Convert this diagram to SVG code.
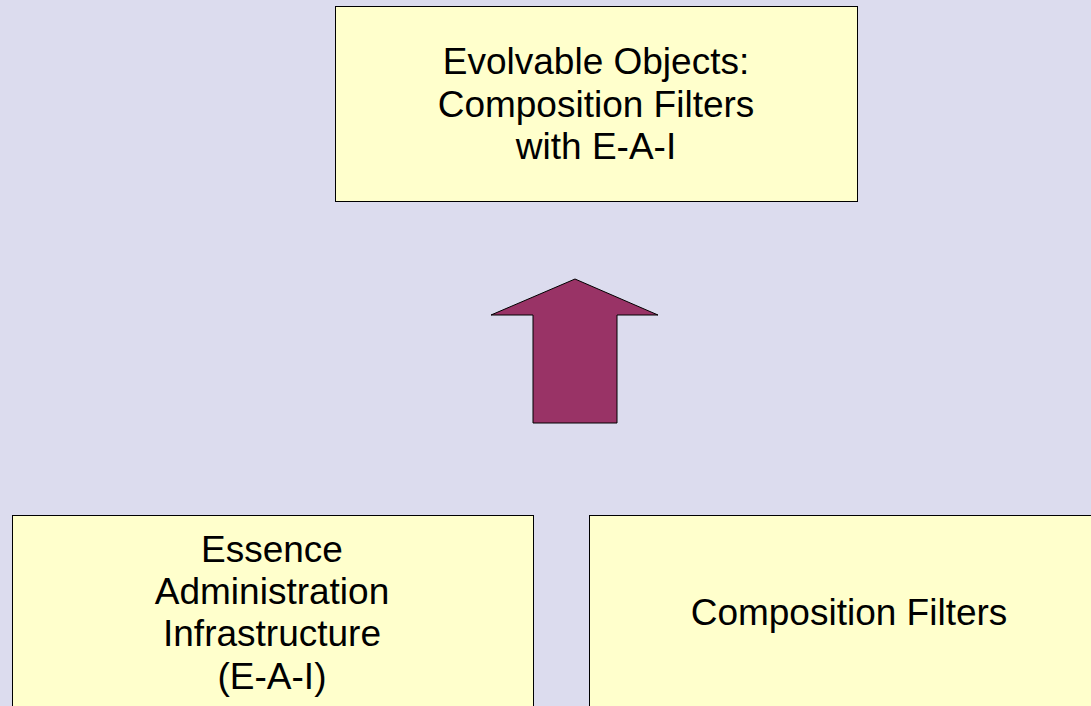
<svg xmlns="http://www.w3.org/2000/svg" width="1091" height="706" viewBox="0 0 1091 706">
<style>
.box{fill:#ffffcc;stroke:#000;stroke-width:1}
.t{font-family:"Liberation Sans",Arial,sans-serif;font-size:37px;fill:#000;text-anchor:middle}
.arrow{fill:#993366;stroke:#000;stroke-width:1}
</style>
<rect width="1091" height="706" fill="#dcdcee"/>
<g id="top">
<rect class="box" x="335.5" y="6.5" width="522" height="195"/>
<text class="t" x="596" y="74">Evolvable Objects:</text>
<text class="t" x="596" y="116.5">Composition Filters</text>
<text class="t" x="596" y="159">with E-A-I</text>
</g>
<g id="eai">
<rect class="box" x="12.5" y="515.5" width="521" height="200"/>
<text class="t" x="272" y="562">Essence</text>
<text class="t" x="272" y="604">Administration</text>
<text class="t" x="272" y="646">Infrastructure</text>
<text class="t" x="272" y="689">(E-A-I)</text>
</g>
<g id="cf">
<rect class="box" x="589.5" y="515.5" width="521" height="200"/>
<text class="t" x="849" y="625">Composition Filters</text>
</g>
<g id="connectors">
<polygon class="arrow" points="575,279 658,315 617,315 617,423 533,423 533,315 491,315"/>
</g>
</svg>
